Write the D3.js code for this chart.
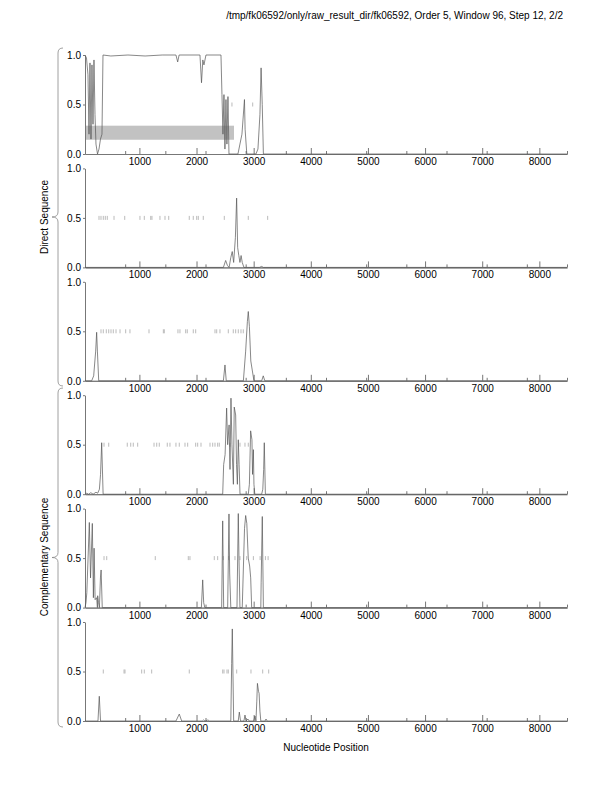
<!DOCTYPE html>
<html>
<head>
	<meta charset="utf-8">
	<script src="https://cdnjs.cloudflare.com/ajax/libs/d3/7.8.5/d3.min.js"></script>
	<style>
		body { margin: 0; background: #fff; }
		text { font-family: "Liberation Sans", Helvetica, Arial, sans-serif; }
	</style>
</head>
<body>
	<svg width="612" height="792"></svg>
	<script>
		// sequence window: first point at 48, last at 8484
		let seqStart = 48, seqEnd = 8484;
		let majorTicks = [1000, 2000, 3000, 4000, 5000, 6000, 7000, 8000];
		let yTicks = [0, 0.5, 1];

		// coding potential per frame: [position, value]
		let frame1 = [[48,1.0],[74,0.97],[100,0.8],[118,0.2],[135,0.92],[153,0.15],[170,0.9],[188,0.3],[205,0.95],[223,0.4],[240,0.1],[267,0.0],[293,0.05],[319,0.15],[345,0.2],[363,1.0],[500,0.99],[800,1.0],[1100,0.99],[1400,1.0],[1640,1.0],[1670,0.93],[1695,1.0],[2060,1.0],[2087,0.72],[2110,0.95],[2130,0.9],[2165,1.0],[2428,1.0],[2445,0.6],[2463,0.2],[2480,0.6],[2497,0.05],[2515,0.55],[2532,0.1],[2550,0.58],[2568,0.0],[2725,0.0],[2760,0.1],[2795,0.2],[2839,0.55],[2850,0.25],[2880,0.0],[3040,0.0],[3075,0.05],[3110,0.4],[3130,0.87],[3150,0.5],[3170,0.0],[8484,0]];
		let frame2 = [[48,0],[2470,0],[2510,0.07],[2540,0.02],[2570,0],[2600,0.1],[2625,0.16],[2650,0.05],[2680,0.3],[2702,0.7],[2720,0.2],[2740,0.12],[2760,0.05],[2780,0.12],[2800,0.05],[2830,0],[3100,0],[3140,0.01],[3170,0],[8484,0]];
		let frame3 = [[48,0],[165,0],[200,0.05],[235,0.3],[252,0.49],[265,0.3],[288,0],[2470,0],[2498,0.16],[2520,0],[2820,0],[2860,0.3],[2890,0.6],[2906,0.7],[2925,0.55],[2950,0.2],[3005,0],[3140,0],[3168,0.05],[3195,0],[8484,0]];
		let frame4 = [[48,0],[80,0.01],[110,0],[150,0.015],[190,0],[240,0.02],[270,0.01],[300,0.05],[320,0.2],[340,0.52],[365,0],[2458,0],[2475,0.3],[2500,0.4],[2527,0.87],[2545,0.5],[2570,0.7],[2586,0.25],[2603,0.97],[2620,0.5],[2645,0.1],[2660,0.88],[2685,0.8],[2700,0.3],[2715,0.1],[2731,0.55],[2745,0.3],[2761,0],[2906,0],[2925,0.1],[2947,0.64],[2970,0.55],[2980,0.2],[2995,0.45],[3005,0.1],[3020,0],[3140,0],[3160,0.05],[3175,0.25],[3186,0.52],[3205,0],[8484,0]];
		let frame5 = [[48,0],[65,0.05],[80,0.15],[124,0.86],[145,0.3],[176,0.85],[195,0.1],[207,0.6],[225,0.08],[252,0.1],[265,0],[270,0.12],[285,0.05],[300,0],[318,0.3],[330,0.38],[350,0],[2085,0],[2108,0.28],[2125,0.05],[2145,0],[2440,0],[2458,0.876],[2475,0],[2545,0],[2568,0.946],[2580,0.35],[2600,0],[2708,0],[2731,0.95],[2743,0.5],[2760,0],[2800,0],[2840,0.8],[2860,0.93],[2880,0.85],[2905,0.5],[2930,0.42],[2948,0.3],[2965,0],[3125,0],[3131,0.25],[3151,0.92],[3170,0],[8484,0]];
		let frame6 = [[48,0],[275,0],[298,0.25],[320,0],[1640,0],[1698,0.07],[1740,0],[2100,0],[2120,0.01],[2150,0],[2200,0.01],[2230,0],[2600,0],[2615,0.58],[2626,0.93],[2650,0],[2730,0],[2749,0.09],[2770,0],[2830,0],[2848,0.06],[2870,0],[2900,0.02],[2920,0],[3000,0],[3023,0.05],[3040,0],[3055,0.2],[3066,0.38],[3085,0.3],[3095,0.28],[3110,0.1],[3125,0],[3200,0],[3216,0.02],[3235,0],[8484,0]];

		// start/stop codon marks drawn at 0.5
		let marks1 = [2620, 2983];
		let marks2 = [293, 328, 368, 403, 438, 556, 743, 1010, 1086, 1198, 1220, 1360, 1448, 1513, 1873, 1943, 2003, 2031, 2118, 2486, 2906, 3245];
		let marks3 = [328, 368, 421, 463, 503, 543, 591, 661, 760, 835, 1168, 1419, 1436, 1675, 1710, 1810, 1838, 1943, 1985, 2323, 2353, 2410, 2556, 2643, 2685, 2731, 2778, 2818];
		let marks4 = [381, 463, 788, 848, 893, 970, 1256, 1303, 1348, 1488, 1535, 1640, 1698, 1798, 1845, 1985, 2020, 2078, 2236, 2283, 2323, 2370, 2398, 2586, 2761, 2848, 2906];
		let marks5 = [381, 428, 1278, 1856, 1885, 2311, 2370, 2468, 2563, 2673, 2761, 2878, 2995, 3113, 3206, 3253];
		let marks6 = [368, 731, 748, 1040, 1086, 1215, 1873, 2458, 2481, 2533, 2556, 2703, 2953, 3158, 3263];

		// predicted gene region in frame 1: [start, end, low, high]
		let geneBox = [48, 2656, 0.144, 0.286];

		let frames = [frame1, frame2, frame3, frame4, frame5, frame6];
		let marks = [marks1, marks2, marks3, marks4, marks5, marks6];

		let svg = d3.select("svg");
		let left = 85, right = 567, panelTop = 55, panelH = 99, panelStep = 113.4;

		let x = d3.scaleLinear().domain([seqStart, seqEnd]).range([left, right]);
		let minorTicks = d3.range(0, 13).map(function(k) { return seqStart + k * (seqEnd - seqStart) / 12; });

		let line = d3.line()
			.x(function(d) { return x(d[0]); });

		frames.forEach(function(data, i) {
			let top = panelTop + i * panelStep;
			let y = d3.scaleLinear().domain([0, 1]).range([top + panelH, top]);
			let g = svg.append("g");

			if (i == 0) {
				g.append("rect")
					.attr("x", x(geneBox[0]))
					.attr("y", y(geneBox[3]))
					.attr("width", x(geneBox[1]) - x(geneBox[0]))
					.attr("height", y(geneBox[2]) - y(geneBox[3]))
					.attr("fill", "#c2c2c2");
			}

			//codon marks
			g.append("g")
				.selectAll("line")
				.data(marks[i])
				.enter()
				.append("line")
				.attr("x1", function(d) { return x(d); })
				.attr("x2", function(d) { return x(d); })
				.attr("y1", y(0.5) - 2)
				.attr("y2", y(0.5) + 2)
				.attr("stroke", "#aaa")
				.attr("stroke-width", 0.8);

			//x axis, major and minor ticks pointing up
			g.append("g")
				.attr("transform", "translate(0," + y(0) + ")")
				.call(d3.axisBottom(x).tickValues(majorTicks).tickFormat(d3.format("d")).tickSize(-6).tickSizeOuter(0).tickPadding(4));
			g.append("g")
				.attr("transform", "translate(0," + y(0) + ")")
				.call(d3.axisBottom(x).tickValues(minorTicks).tickSize(-3).tickSizeOuter(0).tickFormat(""));

			//y axis
			g.append("g")
				.attr("transform", "translate(" + left + ",0)")
				.call(d3.axisLeft(y).tickValues(yTicks).tickFormat(d3.format(".1f")).tickSize(2).tickSizeOuter(0).tickPadding(2));

			g.selectAll(".domain, .tick line").attr("stroke", "#777");
			g.selectAll(".tick text").attr("fill", "#000").style("font-size", "10px").style("font-family", "Liberation Sans, Helvetica, Arial, sans-serif");

			line.y(function(d) { return y(d[1]); });
			g.append("path")
				.datum(data)
				.attr("d", line)
				.attr("fill", "none")
				.attr("stroke", "#555")
				.attr("stroke-width", 0.7);
		});

		//braces
		function brace(y0, y1) {
			let m = (y0 + y1) / 2;
			return "M63," + y0 + " Q58," + y0 + " 58," + (y0 + 5) +
				" L58," + (m - 5) + " Q58," + m + " 52," + m +
				" Q58," + m + " 58," + (m + 5) +
				" L58," + (y1 - 5) + " Q58," + y1 + " 63," + y1;
		}
		svg.append("path").attr("d", brace(48, 386)).attr("fill", "none").attr("stroke", "#888").attr("stroke-width", 0.8);
		svg.append("path").attr("d", brace(388, 727)).attr("fill", "none").attr("stroke", "#888").attr("stroke-width", 0.8);

		svg.append("text")
			.attr("transform", "translate(48,217) rotate(-90)")
			.attr("text-anchor", "middle")
			.style("font-size", "10px")
			.text("Direct Sequence");
		svg.append("text")
			.attr("transform", "translate(48,557) rotate(-90)")
			.attr("text-anchor", "middle")
			.style("font-size", "10px")
			.text("Complementary Sequence");

		svg.append("text")
			.attr("x", (left + right) / 2)
			.attr("y", 751)
			.attr("text-anchor", "middle")
			.style("font-size", "10px")
			.text("Nucleotide Position");

		svg.append("text")
			.attr("x", 563)
			.attr("y", 19)
			.attr("text-anchor", "end")
			.style("font-size", "10px")
			.text("/tmp/fk06592/only/raw_result_dir/fk06592, Order 5, Window 96, Step 12, 2/2");
	</script>
</body>
</html>
